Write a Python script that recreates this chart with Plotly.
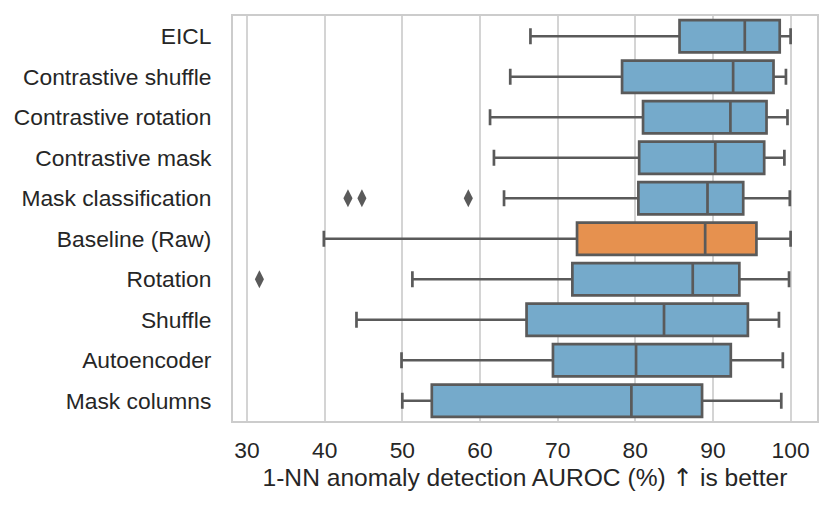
import plotly.graph_objects as go

# data (AUROC %, per method)
methods = ["EICL", "Contrastive shuffle", "Contrastive rotation", "Contrastive mask",
           "Mask classification", "Baseline (Raw)", "Rotation", "Shuffle",
           "Autoencoder", "Mask columns"]
lower = [66.5, 63.9, 61.3, 61.8, 63.1, 39.9, 51.3, 44.1, 49.9, 50.0]
q1 = [85.7, 78.3, 81.0, 80.5, 80.4, 72.5, 71.9, 66.0, 69.4, 53.8]
median = [94.1, 92.6, 92.25, 90.3, 89.3, 89.0, 87.4, 83.7, 80.1, 79.5]
q3 = [98.6, 97.8, 96.9, 96.6, 93.9, 95.6, 93.4, 94.5, 92.3, 88.6]
upper = [100.0, 99.4, 99.6, 99.2, 99.9, 100.0, 99.8, 98.5, 99.0, 98.8]

outlier_method = ["Mask classification", "Mask classification", "Mask classification", "Rotation"]
outlier_value = [43.0, 44.8, 58.5, 31.6]

baseline = "Baseline (Raw)"
blue = "#75aacb"
orange = "#e6914f"
line_gray = "#5a5a5a"

fig = go.Figure()

# blue boxes = all methods except baseline, orange = baseline
for is_base, color in [(False, blue), (True, orange)]:
    idx = [i for i, m in enumerate(methods) if (m == baseline) == is_base]
    fig.add_trace(go.Box(
        y=[methods[i] for i in idx],
        q1=[q1[i] for i in idx],
        median=[median[i] for i in idx],
        q3=[q3[i] for i in idx],
        lowerfence=[lower[i] for i in idx],
        upperfence=[upper[i] for i in idx],
        orientation="h",
        boxpoints=False,
        fillcolor=color,
        line=dict(color=line_gray, width=2.7),
        whiskerwidth=0.5,
        width=0.8,
        showlegend=False,
        hoverinfo="skip",
    ))

fig.add_trace(go.Scatter(
    x=outlier_value, y=outlier_method, mode="markers",
    marker=dict(symbol="diamond-tall", size=13, color=line_gray, line=dict(width=0)),
    showlegend=False, hoverinfo="skip",
))

# the page has an 8px body margin, so the figure is 8px smaller than the window
fig.update_layout(
    width=823, height=500,
    margin=dict(l=225, r=14, t=6, b=87),
    paper_bgcolor="white", plot_bgcolor="white",
    boxmode="overlay",
    font=dict(family="Liberation Sans, Arial, sans-serif", size=22.8, color="#262626"),
    xaxis=dict(
        range=[28.2, 103.4],
        tickvals=[30, 40, 50, 60, 70, 80, 90, 100],
        tickfont=dict(size=22.8),
        showgrid=True, gridcolor="#d4d4d4", gridwidth=1.6,
        zeroline=False,
        showline=True, mirror=True, linecolor="#cccccc", linewidth=2,
        ticks="", ticklabelstandoff=8,
        title=dict(
            text='1-NN anomaly detection AUROC (%) <span style="font-family:DejaVu Sans">↑</span> is better',
            standoff=6, font=dict(size=24.6)),
    ),
    yaxis=dict(
        type="category", categoryorder="array", categoryarray=methods,
        range=[9.5, -0.5],
        showgrid=False, zeroline=False,
        showline=True, mirror=True, linecolor="#cccccc", linewidth=2,
        ticks="", ticklabelstandoff=15,
    ),
)

fig.write_html("out.html")
